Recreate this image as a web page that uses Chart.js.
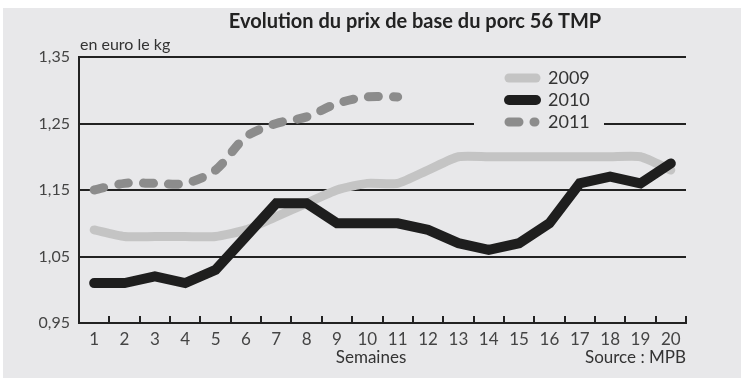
<!DOCTYPE html>
<html>
<head>
<meta charset="utf-8">
<script src="https://cdn.jsdelivr.net/npm/chart.js@4"></script>
<style>
  html, body { margin: 0; padding: 0; background: #fff; }
</style>
</head>
<body>
<canvas id="lineChart" width="747" height="388"></canvas>
<script>
// semaines 1..20
const weeks = ["1", "2", "3", "4", "5", "6", "7", "8", "9", "10",
               "11", "12", "13", "14", "15", "16", "17", "18", "19", "20"];
const prix2009 = [1.09, 1.08, 1.08, 1.08, 1.08, 1.09, 1.11, 1.13, 1.15, 1.16,
                  1.16, 1.18, 1.20, 1.20, 1.20, 1.20, 1.20, 1.20, 1.20, 1.18];
const prix2010 = [1.01, 1.01, 1.02, 1.01, 1.03, 1.08, 1.13, 1.13, 1.10, 1.10,
                  1.10, 1.09, 1.07, 1.06, 1.07, 1.10, 1.16, 1.17, 1.16, 1.19];
const prix2011 = [1.15, 1.16, 1.16, 1.16, 1.18, 1.23, 1.25, 1.26, 1.28, 1.29,
                  1.29];
const yTicks = [0.95, 1.05, 1.15, 1.25, 1.35];

const FONT = "Lato, 'Open Sans', sans-serif";
const BG = "#e8e8ea";

/* fond gris + textes + legende */
const decor = {
    id: "decor",
    beforeDraw(chart) {
        const ctx = chart.ctx;
        ctx.save();
        ctx.fillStyle = "#fff";
        ctx.fillRect(0, 0, chart.width, chart.height);
        ctx.fillStyle = BG;
        ctx.fillRect(3, 8, 738, 370);
        ctx.restore();
    },
    afterDraw(chart) {
        const ctx = chart.ctx;
        const area = chart.chartArea;
        const x = chart.scales.x;
        ctx.save();

        // titre
        ctx.fillStyle = "#222";
        ctx.font = "bold 20px " + FONT;
        ctx.textAlign = "center";
        ctx.textBaseline = "middle";
        ctx.fillText("Evolution du prix de base du porc 56 TMP", 415, 22);

        ctx.font = "16px " + FONT;
        ctx.fillStyle = "#333";
        ctx.textAlign = "left";
        ctx.fillText("en euro le kg", area.left + 1, 45);

        ctx.font = "17px " + FONT;
        ctx.textAlign = "center";
        ctx.fillText("Semaines", 371, 358);
        ctx.textAlign = "right";
        ctx.fillText("Source : MPB", area.right, 358);

        // graduations vers le haut
        const step = x.getPixelForValue(1) - x.getPixelForValue(0);
        ctx.strokeStyle = "#222";
        ctx.lineWidth = 2;
        for (let i = 1; i <= weeks.length; i++) {
            const px = Math.round(x.getPixelForValue(i - 1) + step / 2);
            ctx.beginPath();
            ctx.moveTo(px, area.bottom);
            ctx.lineTo(px, area.bottom - 7);
            ctx.stroke();
        }

        // legende
        ctx.fillStyle = BG;
        ctx.fillRect(474, 63, 130, 68);
        const items = [
            { label: "2009", color: "#c4c4c4", y: 78 },
            { label: "2010", color: "#1e1e1e", y: 100 },
            { label: "2011", color: "#8c8c8c", y: 122 }
        ];
        ctx.lineCap = "round";
        items.forEach((it, i) => {
            ctx.strokeStyle = it.color;
            ctx.lineWidth = i === 1 ? 10 : 9;
            ctx.beginPath();
            if (i === 2) {
                ctx.moveTo(509, it.y);
                ctx.lineTo(519, it.y);
                ctx.moveTo(534, it.y);
                ctx.lineTo(535, it.y);
            } else {
                ctx.moveTo(509, it.y);
                ctx.lineTo(536, it.y);
            }
            ctx.stroke();
            ctx.fillStyle = "#333";
            ctx.font = "18px " + FONT;
            ctx.textAlign = "left";
            ctx.fillText(it.label, 548, it.y);
        });
        ctx.restore();
    }
};

new Chart(document.getElementById("lineChart"), {
    type: "line",
    data: {
        labels: weeks,
        datasets: [
            {
                label: "2010",
                data: prix2010,
                borderColor: "#1e1e1e",
                borderWidth: 10,
                borderCapStyle: "round",
                borderJoinStyle: "miter",
                tension: 0,
                order: 0
            },
            {
                label: "2009",
                data: prix2009,
                borderColor: "#c4c4c4",
                borderWidth: 9,
                borderCapStyle: "round",
                borderJoinStyle: "round",
                tension: 0.2,
                order: 1
            },
            {
                label: "2011",
                data: prix2011,
                borderColor: "#8c8c8c",
                borderWidth: 9,
                borderDash: [10, 15],
                borderCapStyle: "round",
                borderJoinStyle: "round",
                tension: 0.3,
                order: 2
            }
        ]
    },
    options: {
        responsive: false,
        animation: false,
        devicePixelRatio: 1,
        layout: { padding: { top: 57, right: 61, left: 0, bottom: 0 } },
        elements: { point: { radius: 0 } },
        plugins: {
            legend: { display: false },
            tooltip: { enabled: false }
        },
        scales: {
            x: {
                offset: true,
                grid: { display: false, drawTicks: false },
                border: { display: true, color: "#222", width: 2 },
                ticks: {
                    color: "#444",
                    font: { family: FONT, size: 17 },
                    padding: 6,
                    maxRotation: 0,
                    autoSkip: false
                },
                afterFit(scale) { scale.height = 65; }
            },
            y: {
                min: 0.95,
                max: 1.35,
                afterBuildTicks(scale) {
                    scale.ticks = yTicks.map(v => ({ value: v }));
                },
                grid: { color: "#222", lineWidth: 2, drawTicks: false },
                border: { display: true, color: "#222", width: 2 },
                ticks: {
                    color: "#444",
                    font: { family: FONT, size: 16 },
                    padding: 9,
                    callback: v => v.toFixed(2).replace(".", ",")
                },
                afterFit(scale) { scale.width = 79; }
            }
        }
    },
    plugins: [decor]
});
</script>
</body>
</html>
